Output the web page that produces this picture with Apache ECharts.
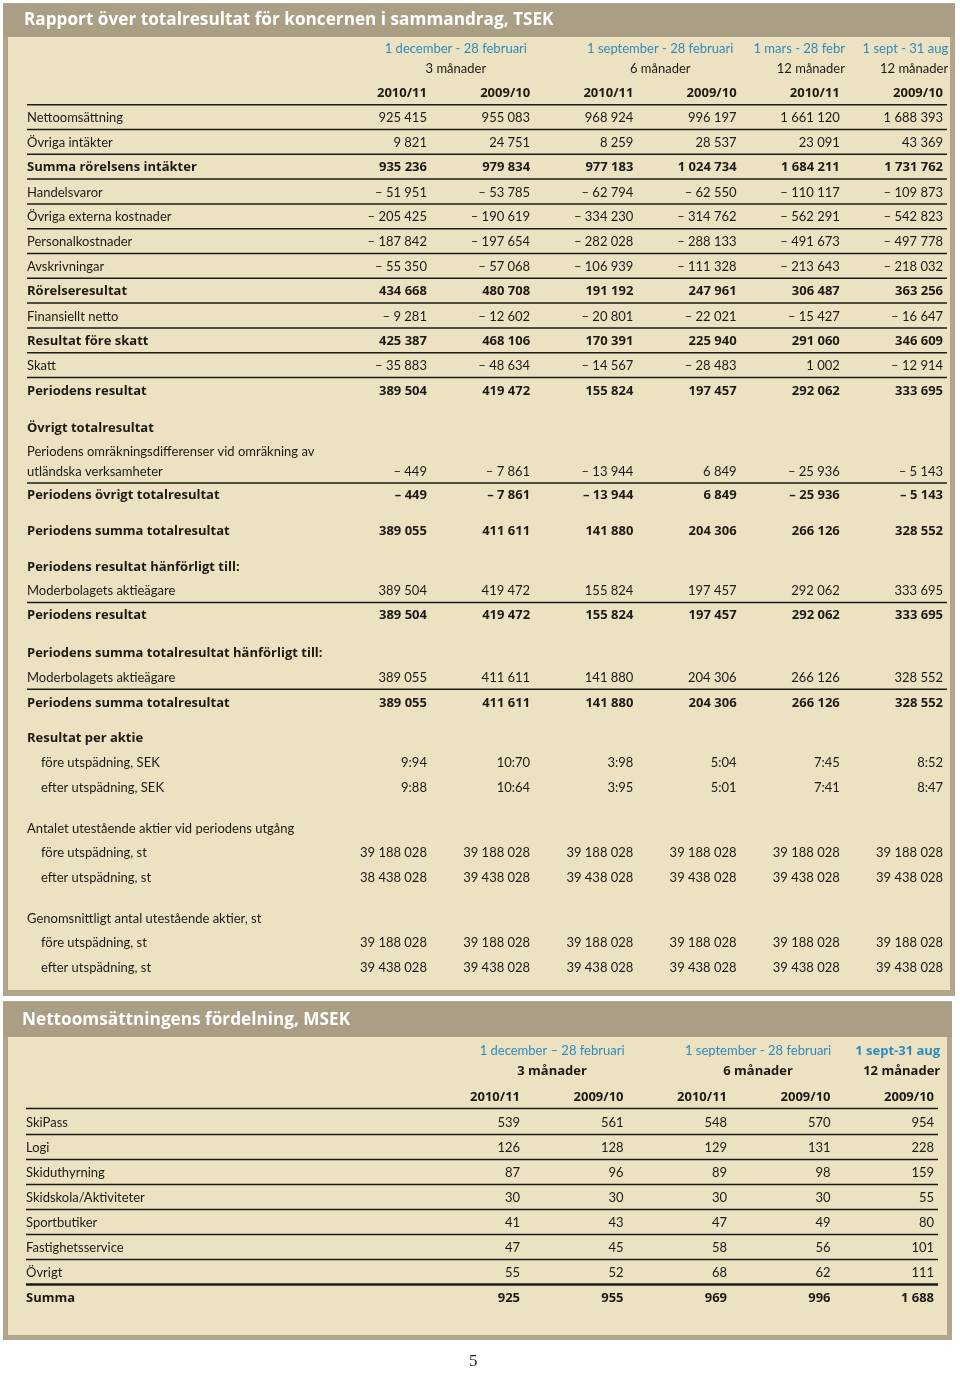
<!DOCTYPE html>
<html>
<head>
<meta charset="utf-8">
<title>Rapport över totalresultat</title>
<script src="https://cdn.jsdelivr.net/npm/echarts@6/dist/echarts.min.js"></script>
<style>
  html, body { margin: 0; padding: 0; background: #ffffff; }
  #report { width: 960px; height: 1373px; }
</style>
</head>
<body>
<div id="report"></div>
<script>
// ---- Tabell 1: Rapport över totalresultat (TSEK) ----
const labels1 = [
  "Nettoomsättning", "Övriga intäkter", "Summa rörelsens intäkter", "Handelsvaror",
  "Övriga externa kostnader", "Personalkostnader", "Avskrivningar", "Rörelseresultat",
  "Finansiellt netto", "Resultat före skatt", "Skatt", "Periodens resultat",
  "Övrigt totalresultat",
  "Periodens omräkningsdifferenser vid omräkning av\nutländska verksamheter",
  "Periodens övrigt totalresultat", "Periodens summa totalresultat",
  "Periodens resultat hänförligt till:", "Moderbolagets aktieägare", "Periodens resultat",
  "Periodens summa totalresultat hänförligt till:", "Moderbolagets aktieägare", "Periodens summa totalresultat",
  "Resultat per aktie", "före utspädning, SEK", "efter utspädning, SEK",
  "Antalet utestående aktier vid periodens utgång", "före utspädning, st", "efter utspädning, st",
  "Genomsnittligt antal utestående aktier, st", "före utspädning, st", "efter utspädning, st"
];
const dec_2010 = [925415, 9821, 935236, -51951, -205425, -187842, -55350, 434668, -9281, 425387, -35883, 389504,
  null, -449, -449, 389055, null, 389504, 389504, null, 389055, 389055,
  null, 9.94, 9.88, null, 39188028, 38438028, null, 39188028, 39438028];
const dec_2009 = [955083, 24751, 979834, -53785, -190619, -197654, -57068, 480708, -12602, 468106, -48634, 419472,
  null, -7861, -7861, 411611, null, 419472, 419472, null, 411611, 411611,
  null, 10.70, 10.64, null, 39188028, 39438028, null, 39188028, 39438028];
const sep_2010 = [968924, 8259, 977183, -62794, -334230, -282028, -106939, 191192, -20801, 170391, -14567, 155824,
  null, -13944, -13944, 141880, null, 155824, 155824, null, 141880, 141880,
  null, 3.98, 3.95, null, 39188028, 39438028, null, 39188028, 39438028];
const sep_2009 = [996197, 28537, 1024734, -62550, -314762, -288133, -111328, 247961, -22021, 225940, -28483, 197457,
  null, 6849, 6849, 204306, null, 197457, 197457, null, 204306, 204306,
  null, 5.04, 5.01, null, 39188028, 39438028, null, 39188028, 39438028];
const mar_2010 = [1661120, 23091, 1684211, -110117, -562291, -491673, -213643, 306487, -15427, 291060, 1002, 292062,
  null, -25936, -25936, 266126, null, 292062, 292062, null, 266126, 266126,
  null, 7.45, 7.41, null, 39188028, 39438028, null, 39188028, 39438028];
const fy_2009 = [1688393, 43369, 1731762, -109873, -542823, -497778, -218032, 363256, -16647, 346609, -12914, 333695,
  null, -5143, -5143, 328552, null, 333695, 333695, null, 328552, 328552,
  null, 8.52, 8.47, null, 39188028, 39438028, null, 39188028, 39438028];
const periods1 = ["1 december - 28 februari", "1 september - 28 februari", "1 mars - 28 febr", "1 sept - 31 aug"];
const months1 = ["3 månader", "6 månader", "12 månader", "12 månader"];
const years1 = ["2010/11", "2009/10", "2010/11", "2009/10", "2010/11", "2009/10"];

// ---- Tabell 2: Nettoomsättningens fördelning (MSEK) ----
const labels2 = ["SkiPass", "Logi", "Skiduthyrning", "Skidskola/Aktiviteter", "Sportbutiker", "Fastighetsservice", "Övrigt", "Summa"];
const q_2010 = [539, 126, 87, 30, 41, 47, 55, 925];
const q_2009 = [561, 128, 96, 30, 43, 45, 52, 955];
const h_2010 = [548, 129, 89, 30, 47, 58, 68, 969];
const h_2009 = [570, 131, 98, 30, 49, 56, 62, 996];
const y_2009 = [954, 228, 159, 55, 80, 101, 111, 1688];
const periods2 = ["1 december – 28 februari", "1 september - 28 februari", "1 sept-31 aug"];
const months2 = ["3 månader", "6 månader", "12 månader"];
const years2 = ["2010/11", "2009/10", "2010/11", "2009/10", "2009/10"];

// ---- layout (row steps in row units, styling) ----
const step1 = [0, 1, 1, 1, 1, 1, 1, 1, 1, 1, 1, 1, 1.5, 1.75, 0.95, 1.45, 1.45, 0.97, 1.0, 1.52, 0.98, 1.05,
  1.41, 0.96, 1.0, 1.67, 0.97, 1.01, 1.65, 0.97, 1.0];
const bold1 = [2, 7, 9, 11, 12, 14, 15, 16, 18, 19, 21, 22];
const indent1 = [23, 24, 26, 27, 29, 30];
const rule1 = [0, 1, 2, 3, 4, 5, 6, 7, 8, 9, 10, 13, 17, 20];
const bold2 = [7];
const rule2 = [0, 1, 2, 3, 4, 5, 6];

const FONT = "Lato, 'Open Sans', sans-serif";
const BOLD = "bold 13px 'Open Sans', Lato, sans-serif";
const REG = "13px " + FONT;
const INK = "#1c1a14";
const BLUE = "#2e8bbd";

function fmt(v) {
  if (v == null) return "";
  let s;
  if (Number.isInteger(v)) {
    s = Math.abs(v).toString().replace(/\B(?=(\d{3})+(?!\d))/g, " ");
  } else {
    s = Math.abs(v).toFixed(2).replace(".", ":");
  }
  return v < 0 ? "\u2013 " + s : s;
}

function cumulate(steps) {
  let acc = 0;
  return steps.map(s => (acc += s));
}

function rowSeries(gridIndex, labels, cols, positions, bold, indent, rules, thickRule) {
  return {
    type: "custom",
    xAxisIndex: gridIndex,
    yAxisIndex: gridIndex,
    silent: true,
    data: labels.map((l, i) => [0, positions[i], i]),
    renderItem(params, api) {
      const i = api.value(2);
      const pos = api.value(1);
      const cs = params.coordSys;
      const y = api.coord([0, pos])[1];
      const font = bold.includes(i) ? BOLD : REG;
      const children = [];
      const lines = labels[i].split("\n");
      lines.forEach((t, k) => {
        children.push({
          type: "text",
          x: cs.x + (indent.includes(i) ? 14 : 0),
          y: y - (lines.length - 1 - k) * 20,
          style: { text: t, font: font, fill: INK, align: "left", verticalAlign: "middle" }
        });
      });
      cols.forEach((col, c) => {
        if (col[i] == null) return;
        const p = api.coord([c + 1, pos]);
        children.push({
          type: "text",
          x: p[0],
          y: y,
          style: { text: fmt(col[i]), font: font, fill: INK, align: "right", verticalAlign: "middle" }
        });
      });
      if (rules.includes(i)) {
        const w = i === thickRule ? 2.6 : 1.5;
        children.push({
          type: "line",
          shape: { x1: cs.x, y1: y + 11.5, x2: cs.x + cs.width + 4, y2: y + 11.5 },
          style: { stroke: INK, lineWidth: w }
        });
      }
      return { type: "group", children: children };
    }
  };
}

function headerSeries(gridIndex, periods, months, years, place, rowsAt, boldMonths, boldLastPeriod) {
  return {
    type: "custom",
    xAxisIndex: gridIndex,
    yAxisIndex: gridIndex,
    silent: true,
    data: [[0, 0, 0]],
    renderItem(params, api) {
      const cs = params.coordSys;
      const children = [];
      periods.forEach((t, k) => {
        const p = api.coord([place[k][0], rowsAt[0]]);
        const b = boldLastPeriod && k === periods.length - 1;
        children.push({
          type: "text", x: p[0], y: p[1],
          style: { text: t, font: b ? BOLD : REG, fill: BLUE, align: place[k][1], verticalAlign: "middle" }
        });
        const q = api.coord([place[k][0], rowsAt[1]]);
        children.push({
          type: "text", x: q[0], y: q[1],
          style: { text: months[k], font: boldMonths ? BOLD : REG, fill: INK, align: place[k][1], verticalAlign: "middle" }
        });
      });
      years.forEach((t, c) => {
        const p = api.coord([c + 1, rowsAt[2]]);
        children.push({
          type: "text", x: p[0], y: p[1],
          style: { text: t, font: BOLD, fill: INK, align: "right", verticalAlign: "middle" }
        });
      });
      const ly = api.coord([0, rowsAt[2]])[1] + 11.5;
      children.push({
        type: "line",
        shape: { x1: cs.x, y1: ly, x2: cs.x + cs.width + 4, y2: ly },
        style: { stroke: INK, lineWidth: 1.5 }
      });
      return { type: "group", children: children };
    }
  };
}

const chart = echarts.init(document.getElementById("report"), null, { renderer: "canvas" });

const PANEL_EDGE = "#b1a68b";
const PANEL_FILL = "#ece2c2";
const TITLE_FILL = "#aa9f84";

chart.setOption({
  animation: false,
  backgroundColor: "#ffffff",
  title: [
    {
      text: "Rapport över totalresultat för koncernen i sammandrag, TSEK",
      left: 24, top: 12, padding: 0,
      textStyle: { color: "#ffffff", fontSize: 17.2, fontWeight: "bold", fontFamily: "'Open Sans', Lato, sans-serif" }
    },
    {
      text: "Nettoomsättningens fördelning, MSEK",
      left: 22, top: 1012, padding: 0,
      textStyle: { color: "#ffffff", fontSize: 17.2, fontWeight: "bold", fontFamily: "'Open Sans', Lato, sans-serif" }
    },
    {
      text: "5",
      left: 469, top: 1353, padding: 0,
      textStyle: { color: "#222222", fontSize: 17, fontWeight: "normal", fontFamily: "'Liberation Serif', 'DejaVu Serif', serif" }
    }
  ],
  graphic: [
    { type: "rect", z: -10, shape: { x: 3, y: 3, width: 952, height: 993 }, style: { fill: PANEL_EDGE } },
    { type: "rect", z: -9, shape: { x: 8, y: 37, width: 942, height: 953 }, style: { fill: PANEL_FILL } },
    { type: "rect", z: -9, shape: { x: 3, y: 4, width: 952, height: 33 }, style: { fill: TITLE_FILL } },
    { type: "rect", z: -10, shape: { x: 3, y: 1001, width: 949, height: 339 }, style: { fill: PANEL_EDGE } },
    { type: "rect", z: -9, shape: { x: 8, y: 1037, width: 939, height: 298 }, style: { fill: PANEL_FILL } },
    { type: "rect", z: -9, shape: { x: 3, y: 1002, width: 949, height: 35 }, style: { fill: TITLE_FILL } }
  ],
  grid: [
    { left: 27, right: 17, top: 43.6, bottom: 387 },
    { left: 26, right: 26, top: 1048, bottom: 50 }
  ],
  xAxis: [
    { type: "value", gridIndex: 0, min: -2.875, max: 6, show: false },
    { type: "value", gridIndex: 1, min: -3.773, max: 5, show: false }
  ],
  yAxis: [
    { type: "value", gridIndex: 0, min: -3, max: 35, inverse: true, show: false },
    { type: "value", gridIndex: 1, min: -3, max: 8, inverse: true, show: false }
  ],
  series: [
    headerSeries(0, periods1, months1, years1,
      [[1.28, "center"], [3.26, "center"], [6.05 - 1, "right"], [6.05, "right"]],
      [-2.8, -2.0, -1.0], false, false),
    rowSeries(0, labels1, [dec_2010, dec_2009, sep_2010, sep_2009, mar_2010, fy_2009],
      cumulate(step1), bold1, indent1, rule1, -1),
    headerSeries(1, periods2, months2, years2,
      [[1.31, "center"], [3.3, "center"], [5.06, "right"]],
      [-2.88, -2.08, -1.04], true, true),
    rowSeries(1, labels2, [q_2010, q_2009, h_2010, h_2009, y_2009],
      labels2.map((l, i) => i), bold2, [], rule2, 6)
  ]
});
</script>
</body>
</html>
